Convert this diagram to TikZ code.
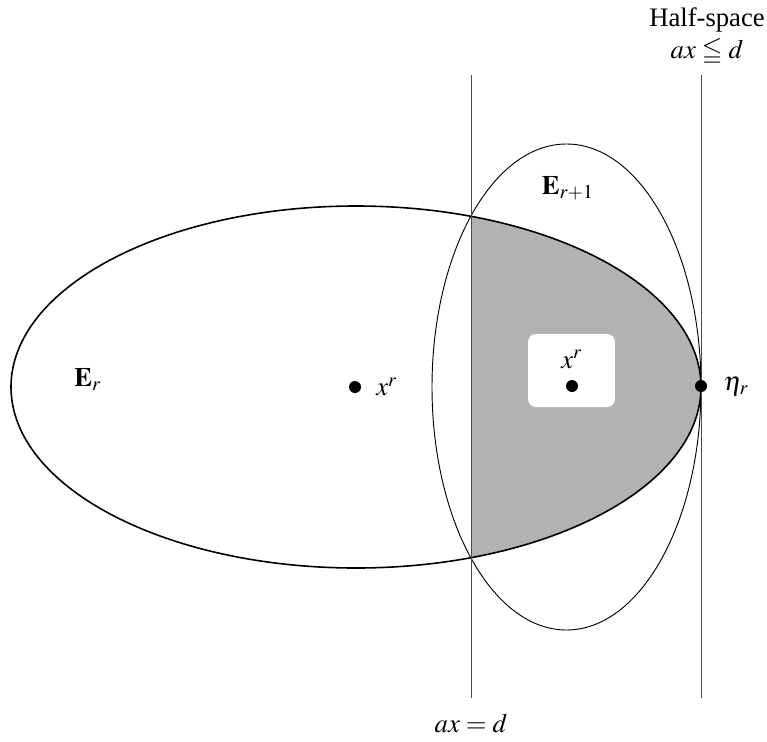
\documentclass[tikz,border=0pt]{standalone}
\usepackage{mathptmx}
\usepackage{amssymb}
\usepackage{fontspec}
\setmainfont{Liberation Serif}
\usetikzlibrary{positioning}

\tikzset{
  dot/.style={circle,fill=black,inner sep=0pt,minimum size=4.5pt},
  bound/.style={draw=black!70,line width=0.35pt},
  ell/.style={draw=black,line width=0.35pt},
}

\begin{document}
\begin{tikzpicture}[x=0.375pt,y=-0.375pt]
    \useasboundingbox (0,0) rectangle (767,742);

    % part of E_r inside the half-space
    \begin{scope}
        \clip (471,0) rectangle (767,742);
        \fill[black!30] (356,387) ellipse (345 and 181);
    \end{scope}
    \node[fill=white,rounded corners=3pt,minimum width=32.6pt,minimum height=27.4pt] (box) at (571.5,370.5) {};

    % ellipses
    \draw[ell,line width=0.6pt] (356,387) ellipse (345 and 181);
    \draw[ell] (566.5,387) ellipse (134.5 and 243);

    % hyperplanes
    \coordinate (lt) at (471,75);
    \coordinate (lb) at (471,698);
    \coordinate (rt) at (701,75);
    \coordinate (rb) at (701,698);
    \draw[bound] (lt) -- (lb);
    \draw[bound] (rt) -- (rb);

    % points
    \node[dot] (xr) at (355,387) {};
    \node[right=2pt of xr] {$x^r$};
    \node[dot] (xn) at (572,386) {};
    \node[above=0.5pt of xn] {$x^r$};
    \node[dot] (eta) at (701,386) {};
    \node[right=2.5pt of eta] {$\eta_r$};

    % labels
    \node (er) at (88,380) {$\mathbf{E}_r$};
    \node (en) at (568,188) {$\mathbf{E}_{r+1}$};
    \node[align=center] (hs) at (707,37) {Half-space\\$ax\leqq d$};
    \node (hp) at (471,723) {$ax=d$};
\end{tikzpicture}
\end{document}
